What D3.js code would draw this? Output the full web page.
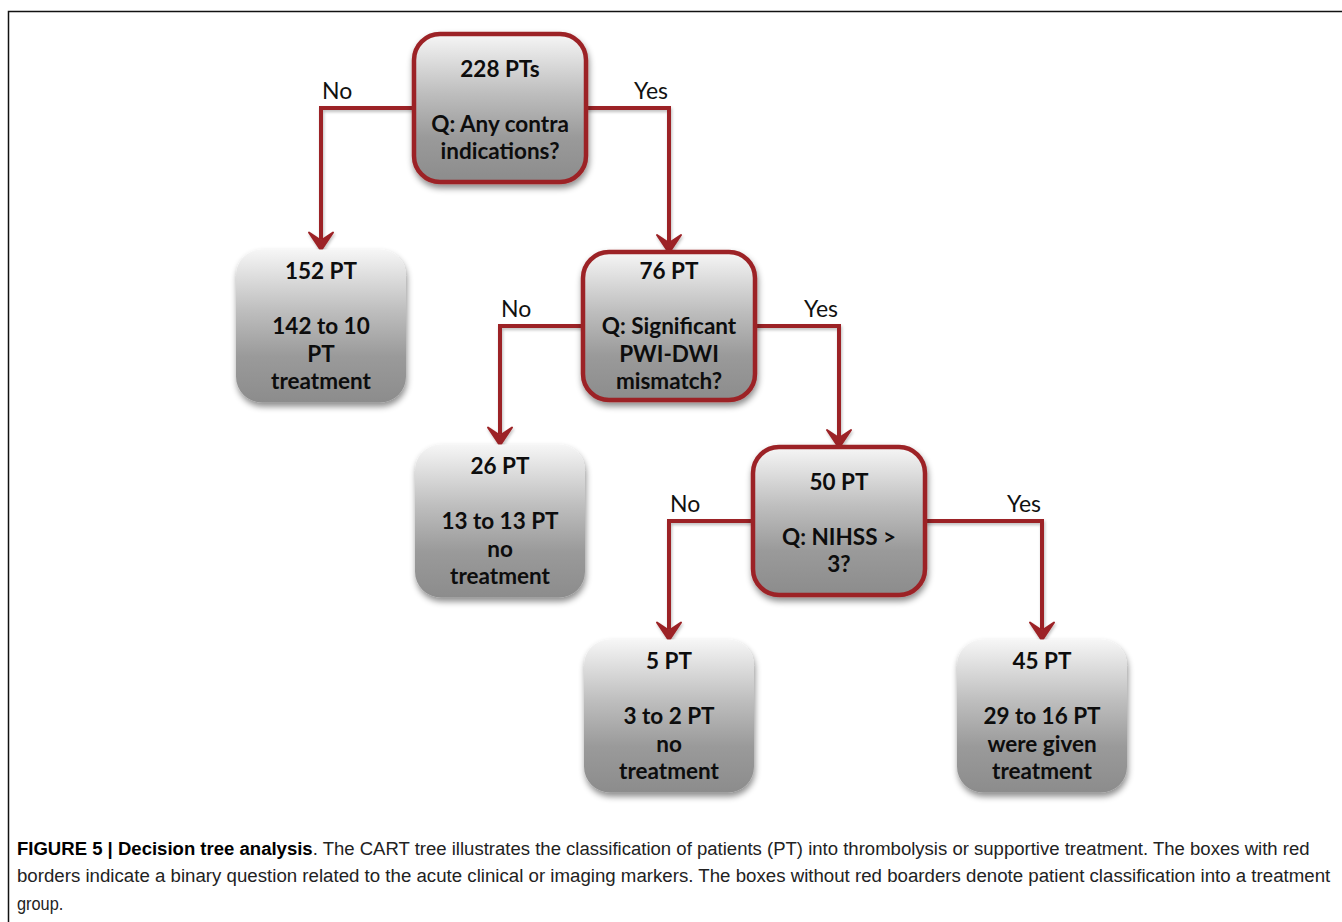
<!DOCTYPE html>
<html>
<head>
<meta charset="utf-8">
<script src="https://cdn.jsdelivr.net/npm/d3@7"></script>
<style>
  body { margin: 0; background: #fff; }
  svg { display: block; }
</style>
</head>
<body>
<svg id="chart"></svg>
<script>
// tree nodes: id, parent, branch taken from the parent, kind
const nodeIds = ['root', 'n152', 'n76', 'n26', 'n50', 'n5', 'n45'];
const nodeParents = ['', 'root', 'root', 'n76', 'n76', 'n50', 'n50'];
const nodeBranches = ['', 'No', 'Yes', 'No', 'Yes', 'No', 'Yes'];
const nodeKinds = ['question', 'leaf', 'question', 'leaf', 'question', 'leaf', 'leaf'];
// text lines per box ('' = blank line)
const nodeLines = [
  ['228 PTs', '', 'Q: Any contra', 'indications?'],
  ['152 PT', '', '142 to 10', 'PT', 'treatment'],
  ['76 PT', '', 'Q: Significant', 'PWI-DWI', 'mismatch?'],
  ['26 PT', '', '13 to 13 PT', 'no', 'treatment'],
  ['50 PT', '', 'Q: NIHSS >', '3?'],
  ['5 PT', '', '3 to 2 PT', 'no', 'treatment'],
  ['45 PT', '', '29 to 16 PT', 'were given', 'treatment']
];
const captionBold = 'FIGURE 5 | Decision tree analysis';
const captionLines = [
  '. The CART tree illustrates the classification of patients (PT) into thrombolysis or supportive treatment. The boxes with red',
  'borders indicate a binary question related to the acute clinical or imaging markers. The boxes without red boarders denote patient classification into a treatment',
  'group.'
];

const width = 1342;
const height = 922;
const red = '#9c2326';

const svg = d3.select('#chart')
  .attr('width', width)
  .attr('height', height);

const defs = svg.append('defs');
const grad = defs.append('linearGradient')
  .attr('id', 'boxFill')
  .attr('x1', 0).attr('y1', 0).attr('x2', 0).attr('y2', 1);
grad.append('stop').attr('offset', '0%').attr('stop-color', '#f6f6f6');
grad.append('stop').attr('offset', '40%').attr('stop-color', '#bebebe');
grad.append('stop').attr('offset', '70%').attr('stop-color', '#9a9a9a');
grad.append('stop').attr('offset', '100%').attr('stop-color', '#8c8c8c');

const shadow = defs.append('filter')
  .attr('id', 'shadow')
  .attr('x', '-20%').attr('y', '-20%').attr('width', '140%').attr('height', '140%');
shadow.append('feDropShadow')
  .attr('dx', 1).attr('dy', 4).attr('stdDeviation', 3)
  .attr('flood-color', '#000').attr('flood-opacity', 0.45);

const lineShadow = defs.append('filter')
  .attr('id', 'lineShadow')
  .attr('x', '-20%').attr('y', '-20%').attr('width', '140%').attr('height', '140%');
lineShadow.append('feDropShadow')
  .attr('dx', 1).attr('dy', 2).attr('stdDeviation', 1.5)
  .attr('flood-color', '#000').attr('flood-opacity', 0.25);

// frame
svg.append('path')
  .attr('d', `M8.5,${height} V11.5 H${width}`)
  .attr('fill', 'none')
  .attr('stroke', '#111')
  .attr('stroke-width', 1.5);

const table = nodeIds.map((id, i) => ({
  id, parent: nodeParents[i], branch: nodeBranches[i],
  kind: nodeKinds[i], lines: nodeLines[i]
}));

const root = d3.stratify()
  .id((d) => d.id)
  .parentId((d) => d.parent || null)(table);

// column: No goes one column left, Yes one column right
root.each((d) => {
  if (!d.parent) d.col = 1;
  else d.col = d.parent.col + (d.data.branch === 'No' ? -1 : 1);
});

const x = d3.scaleOrdinal().domain([0, 1, 2, 3, 4]).range([321, 500, 669, 839, 1042]);
const y = d3.scaleOrdinal().domain([0, 1, 2, 3]).range([108, 326, 521, 716]);

const boxW = { question: 172, leaf: 170 };
const boxH = { question: 148, leaf: 153 };
const lineH = 27.5;

root.each((d) => {
  d.x = x(d.col);
  d.y = y(d.depth);
  d.w = boxW[d.data.kind];
  d.h = boxH[d.data.kind];
});

const links = root.links();

// connectors
const linkG = svg.append('g').attr('filter', 'url(#lineShadow)');
linkG.selectAll('path.link')
  .data(links)
  .enter()
  .append('path')
  .attr('class', 'link')
  .attr('d', (l) => {
    const s = l.source, t = l.target;
    const sx = t.x < s.x ? s.x - s.w / 2 : s.x + s.w / 2;
    const top = t.y - t.h / 2;
    return `M${sx},${s.y} H${t.x} V${top - 10}`;
  })
  .attr('fill', 'none')
  .attr('stroke', red)
  .attr('stroke-width', 4)
  .attr('stroke-linejoin', 'miter');

linkG.selectAll('path.head')
  .data(links)
  .enter()
  .append('path')
  .attr('class', 'head')
  .attr('d', (l) => {
    const t = l.target;
    const top = t.y - t.h / 2 + 1;
    return `M${t.x},${top} L${t.x - 12},${top - 18} L${t.x},${top - 10} L${t.x + 12},${top - 18} Z`;
  })
  .attr('fill', red)
  .attr('stroke', red)
  .attr('stroke-width', 2)
  .attr('stroke-linejoin', 'round');

// branch labels
svg.selectAll('text.branch')
  .data(links)
  .enter()
  .append('text')
  .attr('class', 'branch')
  .attr('x', (l) => l.target.data.branch === 'No' ? l.target.x + 1 : l.target.x - 1)
  .attr('y', (l) => l.source.y - 9)
  .attr('text-anchor', (l) => l.target.data.branch === 'No' ? 'start' : 'end')
  .style('font-family', 'Lato, "Open Sans", sans-serif')
  .style('font-size', '23px')
  .attr('fill', '#111')
  .text((l) => l.target.data.branch);

// boxes
const nodeG = svg.selectAll('g.node')
  .data(root.descendants())
  .enter()
  .append('g')
  .attr('class', 'node')
  .attr('transform', (d) => `translate(${d.x},${d.y})`);

nodeG.append('rect')
  .attr('x', (d) => -d.w / 2)
  .attr('y', (d) => -d.h / 2)
  .attr('width', (d) => d.w)
  .attr('height', (d) => d.h)
  .attr('rx', 26)
  .attr('ry', 26)
  .attr('fill', 'url(#boxFill)')
  .attr('stroke', (d) => d.data.kind === 'question' ? red : 'none')
  .attr('stroke-width', 4.5)
  .attr('filter', 'url(#shadow)');

nodeG.each(function (d) {
  const n = d.data.lines.length;
  const start = -((n - 1) * lineH) / 2;
  d3.select(this).selectAll('text')
    .data(d.data.lines)
    .enter()
    .append('text')
    .attr('x', 0)
    .attr('y', (s, i) => start + i * lineH + (d.data.kind === 'question' && n === 4 ? 2 : 0))
    .attr('dy', '0.36em')
    .attr('text-anchor', 'middle')
    .style('font-family', 'Lato, "Open Sans", sans-serif')
    .style('font-weight', 'bold')
    .style('font-size', '22.5px')
    .attr('fill', '#0d0d0d')
    .text((s) => s);
});

// caption: lines squeezed horizontally to the widths in the figure
const capFont = '"Liberation Sans", Arial, sans-serif';
const capWidths = [1293, 1314, null];
const capX = 17;
captionLines.forEach((line, i) => {
  const t = svg.append('text')
    .attr('x', capX)
    .attr('y', 855 + i * 27.5)
    .style('font-family', capFont)
    .style('font-size', '19px')
    .attr('fill', '#222');
  if (i === 0) {
    t.append('tspan').style('font-weight', 'bold').attr('fill', '#000').text(captionBold);
  }
  t.append('tspan').text(line);
  const natural = t.node().getComputedTextLength();
  const k = capWidths[i] ? capWidths[i] / natural : 0.86;
  t.attr('transform', `translate(${capX},0) scale(${k},1) translate(${-capX},0)`);
});
</script>
</body>
</html>
